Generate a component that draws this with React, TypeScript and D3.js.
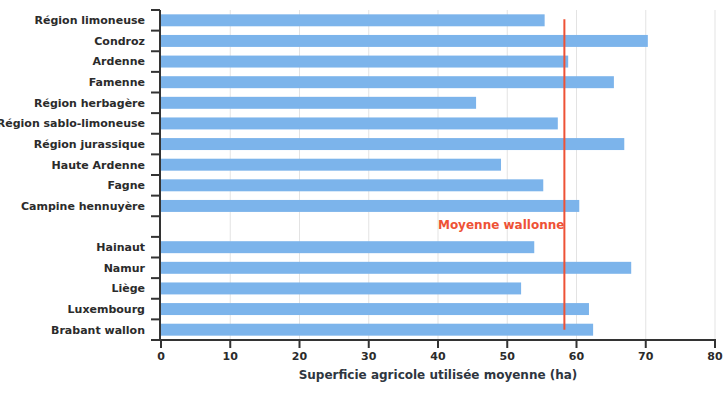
import React from "react";
import * as d3 from "d3";

const categories = [
  "Région limoneuse", "Condroz", "Ardenne", "Famenne", "Région herbagère",
  "Région sablo-limoneuse", "Région jurassique", "Haute Ardenne", "Fagne",
  "Campine hennuyère", "", "Hainaut", "Namur", "Liège", "Luxembourg", "Brabant wallon",
];
const values = [55.4, 70.3, 58.8, 65.4, 45.5, 57.3, 66.9, 49.1, 55.2, 60.4, null, 53.9, 67.9, 52.0, 61.8, 62.4];
const meanValue = 58.25;
const meanLabel = "Moyenne wallonne";
const xTicks = [0, 10, 20, 30, 40, 50, 60, 70, 80];
const xTitle = "Superficie agricole utilisée moyenne (ha)";

export default function App() {
  const W = 725, H = 400;
  const left = 161, right = 715, top = 10, bottom = 340;
  const x = d3.scaleLinear().domain([0, 80]).range([left, right]);
  const y = d3.scaleBand<number>().domain(d3.range(categories.length)).range([top, bottom]).paddingInner(0.42).paddingOuter(0.21);
  const step = (bottom - top) / categories.length;
  const boundaries = d3.range(categories.length + 1).map((i) => top + i * step);
  const font = "'DejaVu Sans', sans-serif";
  const textColor = "#2b2b2b";
  const red = "#ee5236";
  return (
    <svg width={W} height={H} style={{ position: "absolute", left: 0, top: 0 }} fontFamily={font}>
      {xTicks.slice(1).map((t) => (
        <line key={"g" + t} x1={x(t)} x2={x(t)} y1={top} y2={bottom} stroke="#e3e3e3" strokeWidth={1} />
      ))}
      {values.map((v, i) =>
        v == null ? null : (
          <rect key={"b" + i} x={x(0)} y={y(i)} width={x(v) - x(0)} height={y.bandwidth()} fill="#7cb4eb" />
        )
      )}
      {categories.map((c, i) => (
        <text key={"l" + i} x={145} y={y(i)! + y.bandwidth() / 2} dy="0.35em" textAnchor="end" fontSize={11} fontWeight="bold" fill={textColor}>{c}</text>
      ))}
      <line x1={x(meanValue)} x2={x(meanValue)} y1={y(0)! + y.bandwidth() / 2 - 1} y2={y(categories.length - 1)! + y.bandwidth() / 2} stroke={red} strokeWidth={2} />
      <text x={x(meanValue)} y={y(10)! + y.bandwidth() / 2 - 2} dy="0.35em" textAnchor="end" fontSize={12} fontWeight="bold" fill={red}>{meanLabel}</text>
      <line x1={160} x2={160} y1={top} y2={bottom} stroke="#333" strokeWidth={2} />
      {boundaries.map((b, i) => (
        <line key={"t" + i} x1={151} x2={160} y1={b} y2={b} stroke="#333" strokeWidth={2} />
      ))}
      <line x1={159} x2={right + 1} y1={bottom} y2={bottom} stroke="#333" strokeWidth={2} />
      {xTicks.map((t) => (
        <g key={"x" + t}>
          <line x1={x(t)} x2={x(t)} y1={bottom} y2={bottom + 8} stroke="#333" strokeWidth={2} />
          <text x={x(t)} y={bottom + 16} dy="0.35em" textAnchor="middle" fontSize={11} fontWeight="bold" fill={textColor}>{t}</text>
        </g>
      ))}
      <text x={(left + right) / 2 + 0} y={375} dy="0.35em" textAnchor="middle" fontSize={12} fontWeight="bold" fill="#2f3640">{xTitle}</text>
    </svg>
  );
}
